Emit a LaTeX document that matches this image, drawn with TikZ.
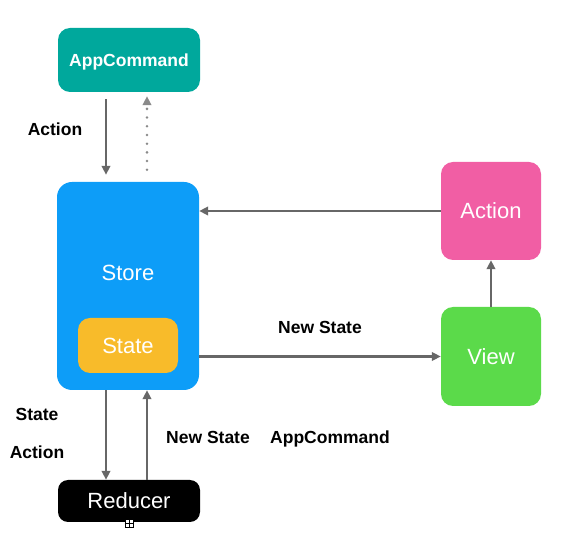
\documentclass[tikz,border=0pt]{standalone}
\usepackage{fontspec}
\setmainfont{Liberation Sans}
\usetikzlibrary{arrows.meta}
\definecolor{cmdteal}{HTML}{00A89C}
\definecolor{storeblue}{HTML}{0D9DF8}
\definecolor{stateyellow}{HTML}{F8BB2A}
\definecolor{actionpink}{HTML}{F15EA4}
\definecolor{viewgreen}{HTML}{5BDA4A}
\definecolor{flowgray}{HTML}{676767}
\definecolor{dotgray}{HTML}{8A8A8A}

\begin{document}
\begin{tikzpicture}[x=1pt, y=-1pt,
  box/.style={rounded corners=12pt, text=white, inner sep=0pt, text depth=0pt, font=\fontsize{22}{24}\selectfont},
  lbl/.style={anchor=base, font=\bfseries\fontsize{17.5}{20}\selectfont},
  flow/.style={->, line width=2.3pt, draw=flowgray, >={Triangle[length=9pt,width=8.5pt]}}]
\useasboundingbox (0,0) rectangle (566,553);
\node[box, fill=cmdteal, minimum width=142pt, minimum height=64pt, font=\bfseries\fontsize{17.5}{20}\selectfont] (appcmd) at (129,60) {AppCommand};
\node[box, fill=storeblue, minimum width=142pt, minimum height=208pt, rounded corners=15pt] (store) at (128,286) {};
\node[text=white, text depth=0pt, font=\fontsize{22}{24}\selectfont] (storetxt) at (128,273) {Store};
\node[box, fill=stateyellow, minimum width=100pt, minimum height=55pt] (state) at (128,345.5) {State};
\node[box, fill=actionpink, minimum width=100pt, minimum height=98pt] (action) at (491,211) {Action};
\node[box, fill=viewgreen, minimum width=100pt, minimum height=99pt] (view) at (491,356.5) {View};
\node[box, fill=black, minimum width=142pt, minimum height=42pt, rounded corners=10pt] (reducer) at (129,501) {Reducer};
\node[draw, fill=white, line width=0.6pt, inner sep=0pt, minimum size=8pt] (marker) at (129,523) {};
\draw[line width=0.6pt] (marker.north) -- (marker.south) (marker.west) -- (marker.east);
% Labels:
\node[lbl] (lact) at (55,136) {Action};
\node[lbl] (lnew) at (320,334) {New State};
\node[lbl] (lstate) at (37,421) {State};
\node[lbl] (lact2) at (37,459) {Action};
\node[lbl] (lnew2) at (208,444) {New State};
\node[lbl] (lcmd) at (330,444) {AppCommand};
% Flows:
\draw[flow, shorten <=7pt, shorten >=7pt] (appcmd.south -| 106,0) -- (store.north -| 106,0);
\draw[flow, draw=dotgray, line width=2.8pt, line cap=round, dash pattern=on 0pt off 8.7pt, shorten <=12pt, shorten >=4pt] (store.north -| 147,0) -- (appcmd.south -| 147,0);
\draw[flow] (action.west) -- (action.west -| store.east);
\draw[flow] (view.north) -- (action.south);
\draw[flow] (view.west -| store.east) -- (view.west);
\draw[flow] (store.south -| 106,0) -- (reducer.north -| 106,0);
\draw[flow] (reducer.north -| 147,0) -- (store.south -| 147,0);
\end{tikzpicture}
\end{document}
